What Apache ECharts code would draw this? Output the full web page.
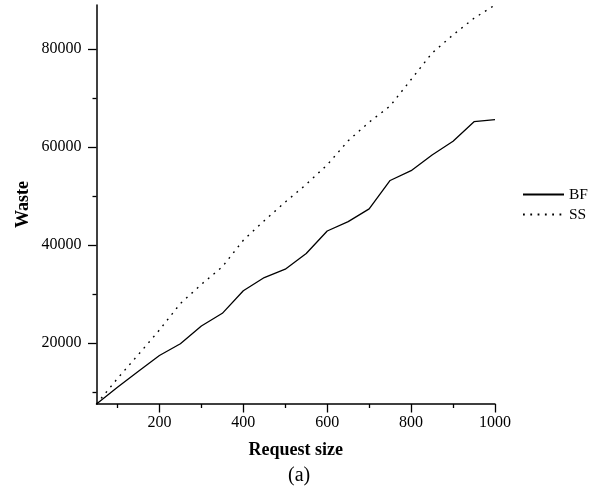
<!DOCTYPE html>
<html>
<head>
<meta charset="utf-8">
<script src="https://cdn.jsdelivr.net/npm/echarts@6/dist/echarts.min.js"></script>
<style>
  html, body { margin: 0; padding: 0; background: #ffffff; }
  #chart { width: 596px; height: 493px; }
</style>
</head>
<body>
<div id="chart"></div>
<script>
// Request sizes on the horizontal axis
const requestSizes = [50, 100, 150, 200, 250, 300, 350, 400, 450, 500,
                      550, 600, 650, 700, 750, 800, 850, 900, 950, 1000];
// Waste for the two allocation strategies
const wasteBF = [7600, 11000, 14300, 17500, 19900, 23500, 26100, 30700, 33400, 35100,
                 38300, 42900, 44800, 47400, 53200, 55200, 58400, 61200, 65200, 65600];
const wasteSS = [7600, 12800, 17700, 22700, 28100, 32000, 35600, 41000, 45000, 48800,
                 52400, 56400, 61300, 65100, 68400, 73800, 79200, 82900, 86300, 89000];

// Axis ranges and tick positions
const xRange = [50, 1000];
const yRange = [7600, 89000];
const xMajorTicks = [200, 400, 600, 800, 1000];
const xMinorTicks = [100, 300, 500, 700, 900];
const yMajorTicks = [20000, 40000, 60000, 80000];
const yMinorTicks = [10000, 30000, 50000, 70000];

const seriesNames = ['BF', 'SS'];

const FONT = '"Liberation Serif", "Times New Roman", serif';
const BLACK = '#000000';

const pairs = ys => requestSizes.map((x, i) => [x, ys[i]]);

const chart = echarts.init(document.getElementById('chart'), null, { renderer: 'canvas' });

const baseLabel = { color: BLACK, fontFamily: FONT, fontSize: 16 };

chart.setOption({
  animation: false,
  backgroundColor: '#ffffff',
  grid: { left: 96.5, right: 101, top: 5, bottom: 89, containLabel: false },
  legend: {
    orient: 'vertical',
    left: 522,
    top: 186.5,
    padding: 0,
    itemWidth: 41,
    itemHeight: 14,
    itemGap: 4,
    data: seriesNames,
    itemStyle: { opacity: 0 },
    textStyle: { color: BLACK, fontFamily: FONT, fontSize: 15.5 }
  },
  xAxis: [
    {
      type: 'value',
      min: xRange[0],
      max: xRange[1],
      name: 'Request size',
      nameLocation: 'middle',
      nameGap: 37,
      nameTextStyle: { color: BLACK, fontFamily: FONT, fontSize: 18, fontWeight: 'bold' },
      axisLine: { show: true, onZero: false, lineStyle: { color: BLACK, width: 1.5 } },
      axisTick: { show: true, length: 8.5, customValues: xMajorTicks, lineStyle: { color: BLACK, width: 1.3 } },
      axisLabel: Object.assign({ margin: 11, customValues: xMajorTicks, formatter: v => String(v) }, baseLabel),
      splitLine: { show: false }
    },
    {
      type: 'value',
      position: 'bottom',
      min: xRange[0],
      max: xRange[1],
      axisLine: { show: false },
      axisTick: { show: true, length: 4, customValues: xMinorTicks, lineStyle: { color: BLACK, width: 1.3 } },
      axisLabel: { show: false },
      splitLine: { show: false }
    }
  ],
  yAxis: [
    {
      type: 'value',
      min: yRange[0],
      max: yRange[1],
      name: 'Waste',
      nameLocation: 'middle',
      nameGap: 64,
      nameMoveOverlap: false,
      nameTextStyle: { color: BLACK, fontFamily: FONT, fontSize: 18, fontWeight: 'bold' },
      axisLine: { show: true, onZero: false, lineStyle: { color: BLACK, width: 1.5 } },
      axisTick: { show: true, length: 8.5, customValues: yMajorTicks, lineStyle: { color: BLACK, width: 1.3 } },
      axisLabel: Object.assign({ margin: 15, customValues: yMajorTicks, formatter: v => String(v) }, baseLabel),
      splitLine: { show: false }
    },
    {
      type: 'value',
      position: 'left',
      min: yRange[0],
      max: yRange[1],
      axisLine: { show: false },
      axisTick: { show: true, length: 4, customValues: yMinorTicks, lineStyle: { color: BLACK, width: 1.3 } },
      axisLabel: { show: false },
      splitLine: { show: false }
    }
  ],
  graphic: [
    {
      type: 'text',
      left: 288,
      top: 466,
      style: { text: '(a)', fill: BLACK, font: '20px ' + FONT }
    }
  ],
  series: [
    {
      name: seriesNames[0],
      type: 'line',
      data: pairs(wasteBF),
      symbol: 'none',
      lineStyle: { color: BLACK, width: 1.3, type: 'solid' },
      itemStyle: { color: BLACK }
    },
    {
      name: seriesNames[1],
      type: 'line',
      data: pairs(wasteSS),
      symbol: 'none',
      lineStyle: { color: BLACK, width: 1.4, type: [1.8, 5.5] },
      itemStyle: { color: BLACK }
    }
  ]
});
</script>
</body>
</html>
